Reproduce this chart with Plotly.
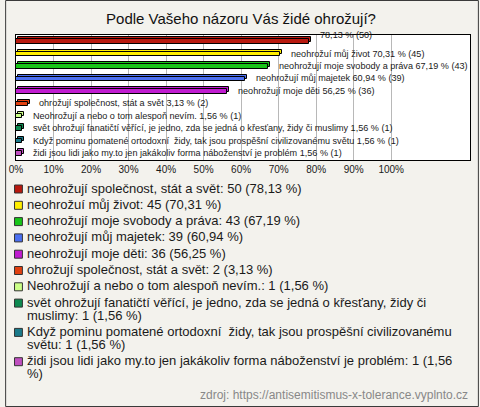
import textwrap
import plotly.graph_objects as go

# ---------------- data ----------------
title_text = "Podle Vašeho názoru Vás židé ohrožují?"
categories = [
    "neohrožují společnost, stát a svět",
    "neohrožuí můj život",
    "neohrožují moje svobody a práva",
    "neohrožují můj majetek",
    "neohrožují moje děti",
    "ohrožují společnost, stát a svět",
    "Neohrožují a nebo o tom alespoň nevím.",
    "svět ohrožují fanatičtí věřící, je jedno, zda se jedná o křesťany, židy či muslimy",
    "Když pominu pomatené ortodoxní  židy, tak jsou prospěšní civilizovanému světu",
    "židi jsou lidi jako my.to jen jakákoliv forma náboženství je problém",
]
counts = [50, 45, 43, 39, 36, 2, 1, 1, 1, 1]
percents = [78.13, 70.31, 67.19, 60.94, 56.25, 3.13, 1.56, 1.56, 1.56, 1.56]
# first bar label in the picture shows no category name
bar_label_names = [""] + categories[1:]
tick_values = [0, 10, 20, 30, 40, 50, 60, 70, 80, 90, 100]
tick_labels = ["0%", "10%", "20%", "30%", "40%", "50%", "60%", "70%", "80%", "90%", "100%"]
source_text = "zdroj: https://antisemitismus-x-tolerance.vyplnto.cz"

# ---------------- style ----------------
colors = ["#b8190f", "#ffee00", "#19c519", "#4b6ff0", "#c01cd0",
          "#e04010", "#ccff88", "#0e8a50", "#1a7a8a", "#c050c0"]
W, H = 480, 407
PL, PR, PT, PB = 11, 471, 35, 160  # plot area in pixels
FONT = "Liberation Sans, Arial, sans-serif"
BG = "#f3f2ed"


def fmt(v):
    return f"{v:.2f}".replace(".", ",")


def px2x(px):
    return (px - PL) / (PR - PL)


def px2y(py):
    return (PB - py) / (PB - PT)


fig = go.Figure()

# back face (gives the bars a slight 3D look)
fig.add_trace(go.Bar(
    x=percents, y=categories, orientation="h", base=0.6,
    width=0.36, offset=-0.30,
    marker=dict(color=colors, line=dict(color="#000000", width=1)),
    hoverinfo="skip", showlegend=False,
))
# front face
fig.add_trace(go.Bar(
    x=percents, y=categories, orientation="h",
    width=0.36, offset=-0.14,
    marker=dict(color=colors, line=dict(color="#000000", width=1)),
    showlegend=False,
))

annotations = []
# bar labels
for i, (name, p, c) in enumerate(zip(bar_label_names, percents, counts)):
    txt = (f"{name} {fmt(p)} % ({c})").strip()
    annotations.append(dict(
        x=p, y=categories[i], xref="x", yref="y", text=txt, showarrow=False,
        xanchor="left", yanchor="middle", xshift=9, yshift=6 if i == 0 else 0,
        font=dict(family=FONT, size=9.1, color="#1a1a1a"),
    ))

shapes = []
# legend drawn as text rows with coloured squares
y = 188.0
item_gap, line_gap = 16.3, 13.0
for name, p, c, col in zip(categories, percents, counts, colors):
    full = f"{name}: {c} ({fmt(p)} %)"
    lines = textwrap.wrap(full, 77, break_long_words=False)
    shapes.append(dict(
        type="rect", xref="paper", yref="paper",
        x0=px2x(9.5), x1=px2x(17.5), y0=px2y(y - 3), y1=px2y(y + 5),
        fillcolor=col, line=dict(color="#333333", width=1),
    ))
    for j, ln in enumerate(lines):
        annotations.append(dict(
            x=px2x(20), y=px2y(y), xref="paper", yref="paper", text=ln,
            showarrow=False, xanchor="left", yanchor="middle",
            font=dict(family=FONT, size=13, color="#1a1a1a"),
        ))
        if j < len(lines) - 1:
            y += line_gap
    y += item_gap

annotations.append(dict(
    x=px2x(471), y=px2y(395), xref="paper", yref="paper", text=source_text,
    showarrow=False, xanchor="right", yanchor="middle",
    font=dict(family=FONT, size=12, color="#888888"),
))

# outer frame
shapes.append(dict(
    type="rect", xref="paper", yref="paper", layer="above",
    x0=px2x(0.5), x1=px2x(479.5), y0=px2y(406.5), y1=px2y(0.5),
    line=dict(color="#3a3a3a", width=1), fillcolor="rgba(0,0,0,0)",
))

fig.update_layout(
    width=W, height=H,
    margin=dict(l=PL, r=W - PR, t=PT, b=H - PB, pad=0),
    paper_bgcolor=BG, plot_bgcolor="#ffffff",
    barmode="overlay", bargap=0,
    title=dict(text=title_text, x=241 / W, xanchor="center", y=1 - 19 / H,
               yanchor="middle", font=dict(family=FONT, size=15, color="#111111")),
    xaxis=dict(range=[0, 121], tickvals=tick_values, ticktext=tick_labels,
               showgrid=True, gridcolor="#b8b8b8", gridwidth=1, zeroline=False,
               showline=True, linecolor="#000000", linewidth=1, mirror=True,
               ticks="", tickfont=dict(family=FONT, size=10, color="#1a1a1a"),
               fixedrange=True),
    yaxis=dict(autorange="reversed", showticklabels=False, showgrid=False,
               showline=True, linecolor="#000000", linewidth=1, mirror=True,
               ticks="", zeroline=False, fixedrange=True),
    annotations=annotations, shapes=shapes,
    showlegend=False,
)

fig.write_html(
    "out.html",
    config={"displayModeBar": False},
    post_script="document.body.style.margin='0';document.body.style.overflow='hidden';",
)
